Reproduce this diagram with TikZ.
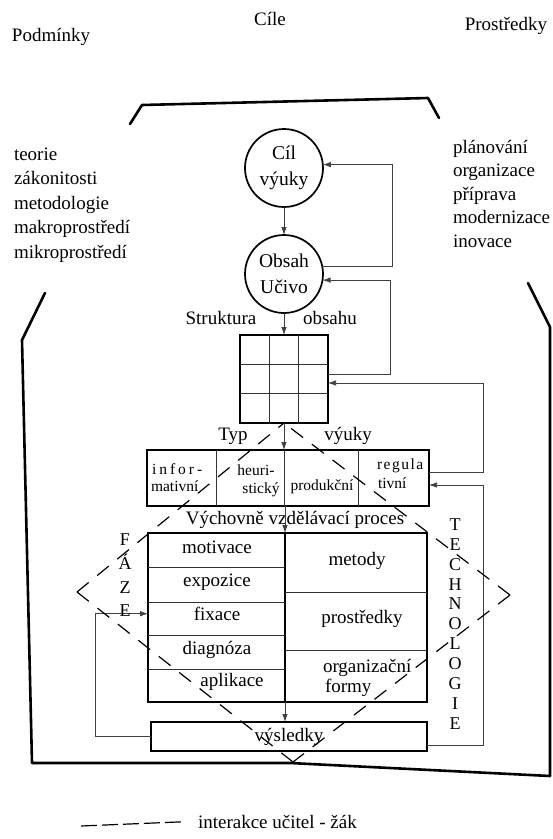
\documentclass[tikz,border=0pt]{standalone}
\usepackage{fontspec}
\setmainfont{Liberation Serif}
\usetikzlibrary{arrows.meta,calc}
\begin{document}
\begin{tikzpicture}[x=1pt,y=-1pt,
  every node/.style={inner sep=0pt,outer sep=0pt},
  txt/.style={font=\fontsize{19}{24}\selectfont},
  celltxt/.style={font=\fontsize{15.5}{18}\selectfont},
  lettxt/.style={font=\fontsize{18}{20}\selectfont},
  bigline/.style={line width=2.6pt,line join=round,line cap=round},
  boxline/.style={draw,line width=1.7pt},
  thinline/.style={line width=0.8pt,draw=black!80},
  conn/.style={line width=0.75pt,draw=black!75},
  arr/.style={conn,-{Latex[length=8pt,width=5.5pt]}},
  circ/.style={circle,draw,line width=1.7pt,minimum size=78pt,align=center,font=\fontsize{19.5}{26}\selectfont},
  interact/.style={line width=1.2pt,dash pattern=on 15pt off 11pt},
  legdash/.style={line width=1.2pt,dash pattern=on 16pt off 5pt},
]
\useasboundingbox (0,0) rectangle (553,839);

% titles
\node[txt,anchor=mid] (tPodm) at (51,39) {Podmínky};
\node[txt,anchor=mid] (tCile) at (270,23) {Cíle};
\node[txt,anchor=mid] (tProst) at (506,28) {Prostředky};

% left and right lists
\foreach \w [count=\i from 0] in {teorie,zákonitosti,metodologie,makroprostředí,mikroprostředí}
  \node[txt,anchor=mid west] (cond\i) at (14,158+24.5*\i) {\w};
\foreach \w [count=\i from 0] in {plánování,organizace,příprava,modernizace,inovace}
  \node[txt,anchor=mid west] (mean\i) at (453,151+23.5*\i) {\w};

% brackets
\draw[bigline] (130,124) -- (142,105) -- (428,98) -- (439,118);
\draw[bigline] (45,293) -- (22,340) -- (32,763) -- (290,763) -- (550,776) -- (550,327) -- (528,283);

% circles
\node[circ] (cil) at (284,168) {Cíl\\výuky};
\node[circ] (obsah) at (284,274) {Obsah\\Učivo};
\draw[arr] (cil) -- (obsah);
\draw[arr] (obsah.12) -- ++(70,0) |- (cil.5);

% structure grid
\node[txt,anchor=mid] (strukt) at (221,322) {Struktura};
\node[txt,anchor=mid] (obsahu) at (330,322) {obsahu};
\node[boxline,minimum width=88pt,minimum height=88pt] (grid) at (284,379) {};
\foreach \f in {1/3,2/3} {
  \draw[thinline] ($(grid.north west)!\f!(grid.north east)$) -- ($(grid.south west)!\f!(grid.south east)$);
  \draw[thinline] ($(grid.north west)!\f!(grid.south west)$) -- ($(grid.north east)!\f!(grid.south east)$);
}
\draw[arr] (obsah) -- (grid);
\draw[arr] ([yshift=5pt]grid.east) -- ++(62,0) |- (obsah.-9);

% type of teaching
\node[txt,anchor=mid] (typlab) at (233,438) {Typ};
\node[txt,anchor=mid] (vyukylab) at (348,438) {výuky};
\node[boxline,minimum width=282pt,minimum height=56pt] (typ) at (288,478) {};
\foreach \x in {216,284,358}
  \draw[thinline] (\x,0 |- typ.north) -- (\x,0 |- typ.south);
\draw[arr] (grid.south) -- (grid.south |- typ.north);
\node[celltxt,anchor=mid west] (inf1) at (152,472) {i\hspace{3pt}n\hspace{3pt}f\hspace{3pt}o\hspace{3pt}r\hspace{3pt}-};
\node[celltxt,anchor=mid west] (inf2) at (151,489) {mativní};
\node[celltxt,anchor=mid] (heu1) at (256,473) {heuri-};
\node[celltxt,anchor=mid] (heu2) at (261,491) {stický};
\node[celltxt,anchor=mid] (prod) at (322,488) {produkční};
\node[celltxt,anchor=mid west] (reg1) at (377,467) {r\hspace{1.5pt}e\hspace{1.5pt}g\hspace{1.5pt}u\hspace{1.5pt}l\hspace{1.5pt}a};
\node[celltxt,anchor=mid west] (reg2) at (378,486) {tivní};
\draw[arr] ([yshift=6pt]typ.east) -- ++(54,0) |- ([yshift=-4pt]grid.east);

% educational process
\node[txt,anchor=mid] (vvp) at (295,522) {Výchovně vzdělávací proces};
\node[boxline,minimum width=279pt,minimum height=169pt] (proc) at (287.5,617.5) {};
\coordinate (axis) at (285,0);
\draw[line width=1.5pt] (proc.north -| axis) -- (proc.south -| axis);
\draw[arr] (typ.south -| axis) -- (proc.north -| axis);
\foreach \y in {567,602,635,669}
  \draw[thinline] (proc.west |- 0,\y) -- (axis |- 0,\y);
\foreach \y in {592,650}
  \draw[thinline] (axis |- 0,\y) -- (proc.east |- 0,\y);
\node[txt,anchor=mid] (motiv) at (217,551) {motivace};
\node[txt,anchor=mid] (expoz) at (217,584) {expozice};
\node[txt,anchor=mid] (fixace) at (217,618) {fixace};
\node[txt,anchor=mid] (diagn) at (217,652) {diagnóza};
\node[txt,anchor=mid] (aplik) at (232,684) {aplikace};
\node[txt,anchor=mid] (metody) at (357,563) {metody};
\node[txt,anchor=mid] (prostr) at (362,621) {prostředky};
\node[txt,anchor=mid west] (org1) at (323,670) {organizační};
\node[txt,anchor=mid west] (org2) at (325,690) {formy};

% results
\node[boxline,minimum width=276pt,minimum height=29pt,txt] (vys) at (289,736.5) {výsledky};
\draw[arr] (proc.south -| axis) -- (vys.north -| axis);
\draw[arr] (vys.west) -- ++(-56,0) |- (proc.west |- fixace);
\draw[arr] ([yshift=-8.5pt]vys.east) -- ++(56,0) |- ([yshift=-7pt]typ.east);

% phases and technology
\foreach \l/\y [count=\i] in {F/543,Á/567,Z/591,E/614}
  \node[lettxt,anchor=mid] (faze\i) at (125,\y) {\l};
\foreach \l [count=\i from 0] in {T,E,C,H,N,O,L,O,G,I,E}
  \node[lettxt,anchor=mid] (tech\i) at (455,528+19.9*\i) {\l};

% teacher-pupil interaction (dashed rhombus)
\coordinate (dl) at (77,592);
\coordinate (dr) at (510,595);
\coordinate (db) at (293,762);
\draw[interact] (dl) -- (grid.south);
\draw[interact] (dl) -- (db);
\draw[interact] (dr) -- (grid.south);
\draw[interact] (dr) -- (db);

% legend
\node[txt,anchor=mid west] (legtxt) at (198,826) {interakce učitel - žák};
\coordinate (leg1) at (81,826);
\draw[legdash] (leg1) -- ([xshift=-15pt]legtxt.west);
\end{tikzpicture}
\end{document}
